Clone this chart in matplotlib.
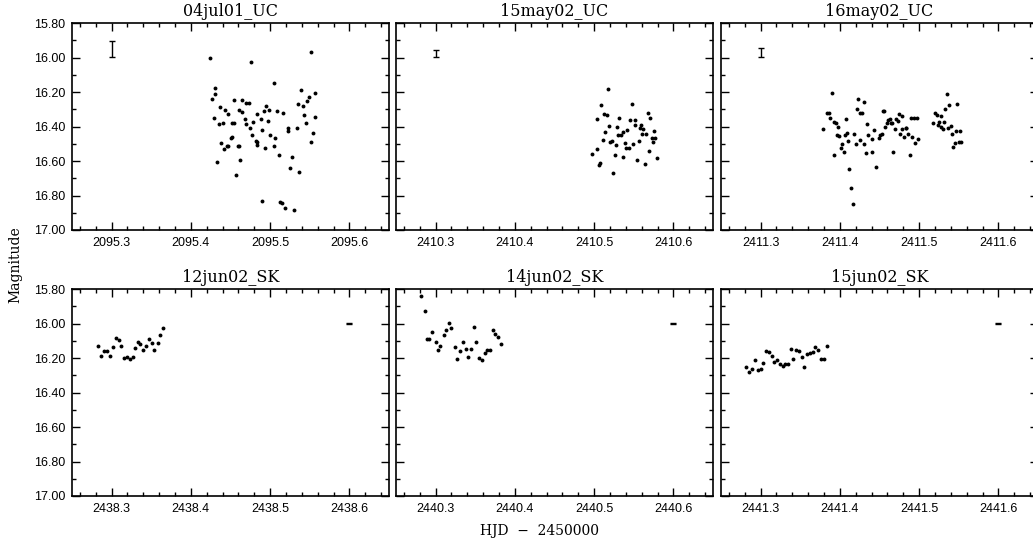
import numpy as np
import matplotlib
matplotlib.use('Agg')
import matplotlib.pyplot as plt
from matplotlib.ticker import MultipleLocator, FormatStrFormatter

# light curves, one night per panel (HJD - 2450000, magnitude)
titles = ['04jul01_UC', '15may02_UC', '16may02_UC',
          '12jun02_SK', '14jun02_SK', '15jun02_SK']

t_04jul01 = [2095.4245, 2095.4755, 2095.552, 2095.505, 2095.431, 2095.430, 2095.427, 2095.539,
             2095.557, 2095.549, 2095.547, 2095.454, 2095.464, 2095.470, 2095.473, 2095.535,
             2095.541, 2095.437, 2095.443, 2095.461, 2095.465, 2095.495, 2095.499, 2095.492,
             2095.509, 2095.516, 2095.447, 2095.483, 2095.543, 2095.556, 2095.429, 2095.468,
             2095.489, 2095.497, 2095.441, 2095.436, 2095.452, 2095.455, 2095.479, 2095.470,
             2095.545, 2095.474, 2095.534, 2095.523, 2095.522, 2095.490, 2095.554, 2095.477,
             2095.500, 2095.506, 2095.451, 2095.452, 2095.482, 2095.484, 2095.484, 2095.438,
             2095.445, 2095.447, 2095.459, 2095.461, 2095.551, 2095.494, 2095.505, 2095.442,
             2095.511, 2095.528, 2095.462, 2095.433, 2095.525, 2095.536, 2095.457, 2095.490,
             2095.513, 2095.515, 2095.519, 2095.530]
m_04jul01 = [16.003, 16.025, 15.968, 16.146, 16.177, 16.214, 16.241, 16.191,
             16.204, 16.230, 16.253, 16.245, 16.247, 16.264, 16.262, 16.270,
             16.280, 16.286, 16.307, 16.307, 16.315, 16.280, 16.303, 16.308,
             16.313, 16.324, 16.330, 16.328, 16.334, 16.344, 16.350, 16.359,
             16.357, 16.369, 16.377, 16.386, 16.377, 16.381, 16.373, 16.388,
             16.381, 16.410, 16.408, 16.408, 16.427, 16.421, 16.435, 16.452,
             16.452, 16.464, 16.466, 16.460, 16.483, 16.489, 16.508, 16.497,
             16.512, 16.512, 16.514, 16.512, 16.489, 16.522, 16.514, 16.533,
             16.564, 16.574, 16.597, 16.603, 16.642, 16.665, 16.681, 16.832,
             16.837, 16.843, 16.872, 16.884]

t_15may02 = [2410.517, 2410.509, 2410.548, 2410.504, 2410.512, 2410.516, 2410.532, 2410.545,
             2410.552, 2410.568, 2410.571, 2410.519, 2410.529, 2410.551, 2410.558, 2410.559,
             2410.562, 2410.514, 2410.537, 2410.542, 2410.576, 2410.560, 2410.565, 2410.530,
             2410.534, 2410.573, 2410.577, 2410.511, 2410.520, 2410.522, 2410.539, 2410.556,
             2410.574, 2410.527, 2410.540, 2410.544, 2410.549, 2410.503, 2410.497, 2410.569,
             2410.526, 2410.536, 2410.579, 2410.554, 2410.508, 2410.506, 2410.564, 2410.524]
m_15may02 = [16.181, 16.274, 16.268, 16.354, 16.328, 16.336, 16.350, 16.361,
             16.361, 16.323, 16.352, 16.396, 16.402, 16.394, 16.406, 16.390,
             16.414, 16.433, 16.429, 16.421, 16.427, 16.443, 16.445, 16.452,
             16.452, 16.466, 16.464, 16.479, 16.487, 16.485, 16.497, 16.485,
             16.489, 16.510, 16.526, 16.526, 16.503, 16.532, 16.561, 16.543,
             16.563, 16.578, 16.582, 16.595, 16.609, 16.624, 16.617, 16.667]

t_16may02 = [2411.379, 2411.384, 2411.386, 2411.388, 2411.390, 2411.393, 2411.395, 2411.398,
             2411.396, 2411.399, 2411.393, 2411.402, 2411.403, 2411.405, 2411.407, 2411.408,
             2411.409, 2411.410, 2411.412, 2411.414, 2411.416, 2411.418, 2411.420, 2411.421,
             2411.423, 2411.425, 2411.426, 2411.428, 2411.430, 2411.431, 2411.433, 2411.434,
             2411.436, 2411.440, 2411.441, 2411.443, 2411.445, 2411.450, 2411.451, 2411.453,
             2411.454, 2411.456, 2411.457, 2411.459, 2411.461, 2411.463, 2411.464, 2411.466,
             2411.467, 2411.469, 2411.471, 2411.473, 2411.474, 2411.476, 2411.478, 2411.479,
             2411.481, 2411.483, 2411.484, 2411.486, 2411.488, 2411.490, 2411.491, 2411.493,
             2411.495, 2411.497, 2411.498, 2411.518, 2411.520, 2411.522, 2411.524, 2411.525,
             2411.527, 2411.528, 2411.530, 2411.532, 2411.533, 2411.535, 2411.537, 2411.538,
             2411.540, 2411.541, 2411.543, 2411.545, 2411.547, 2411.548, 2411.550, 2411.552,
             2411.553]
m_16may02 = [16.414, 16.321, 16.324, 16.348, 16.203, 16.373, 16.379, 16.402,
             16.450, 16.456, 16.563, 16.526, 16.503, 16.549, 16.452, 16.357,
             16.435, 16.483, 16.648, 16.758, 16.851, 16.441, 16.504, 16.297,
             16.239, 16.481, 16.323, 16.323, 16.500, 16.259, 16.551, 16.388,
             16.450, 16.549, 16.470, 16.421, 16.634, 16.466, 16.448, 16.443,
             16.313, 16.313, 16.404, 16.377, 16.361, 16.356, 16.377, 16.377,
             16.549, 16.416, 16.359, 16.369, 16.328, 16.441, 16.412, 16.338,
             16.458, 16.406, 16.410, 16.443, 16.564, 16.350, 16.462, 16.350,
             16.497, 16.348, 16.472, 16.381, 16.321, 16.336, 16.394, 16.375,
             16.400, 16.338, 16.414, 16.375, 16.301, 16.209, 16.408, 16.278,
             16.398, 16.443, 16.520, 16.497, 16.427, 16.272, 16.491, 16.427,
             16.489]

t_12jun02 = [2438.283, 2438.287, 2438.290, 2438.294, 2438.298, 2438.302, 2438.305, 2438.309,
             2438.312, 2438.315, 2438.319, 2438.323, 2438.327, 2438.330, 2438.333, 2438.336,
             2438.340, 2438.344, 2438.347, 2438.351, 2438.354, 2438.358, 2438.361, 2438.365]
m_12jun02 = [16.131, 16.187, 16.158, 16.160, 16.189, 16.135, 16.083, 16.096,
             16.129, 16.201, 16.193, 16.203, 16.197, 16.143, 16.106, 16.117,
             16.156, 16.129, 16.090, 16.115, 16.152, 16.114, 16.067, 16.026]

t_14jun02 = [2440.282, 2440.286, 2440.289, 2440.292, 2440.296, 2440.300, 2440.303, 2440.306,
             2440.310, 2440.313, 2440.317, 2440.320, 2440.324, 2440.327, 2440.331, 2440.334,
             2440.338, 2440.341, 2440.345, 2440.348, 2440.351, 2440.355, 2440.358, 2440.362,
             2440.365, 2440.368, 2440.372, 2440.375, 2440.379, 2440.382]
m_14jun02 = [15.843, 15.926, 16.088, 16.090, 16.050, 16.110, 16.156, 16.131,
             16.065, 16.038, 15.999, 16.025, 16.135, 16.203, 16.158, 16.106,
             16.150, 16.193, 16.146, 16.021, 16.108, 16.201, 16.214, 16.172,
             16.152, 16.152, 16.040, 16.063, 16.081, 16.117]

t_15jun02 = [2441.281, 2441.285, 2441.289, 2441.293, 2441.297, 2441.300, 2441.303, 2441.307,
             2441.311, 2441.314, 2441.317, 2441.321, 2441.324, 2441.328, 2441.331, 2441.334,
             2441.338, 2441.341, 2441.345, 2441.348, 2441.352, 2441.355, 2441.359, 2441.362,
             2441.366, 2441.369, 2441.373, 2441.376, 2441.380, 2441.384]
m_15jun02 = [16.253, 16.284, 16.264, 16.212, 16.272, 16.263, 16.230, 16.160,
             16.166, 16.191, 16.224, 16.212, 16.237, 16.249, 16.232, 16.236,
             16.146, 16.204, 16.152, 16.162, 16.195, 16.253, 16.178, 16.170,
             16.164, 16.137, 16.154, 16.208, 16.204, 16.131]

times = [t_04jul01, t_15may02, t_16may02, t_12jun02, t_14jun02, t_15jun02]
mags = [m_04jul01, m_15may02, m_16may02, m_12jun02, m_14jun02, m_15jun02]

# typical error bar drawn in a corner of each panel
err_x = [2095.3, 2410.3, 2411.3, 2438.6, 2440.6, 2441.6]
err_y = [15.951, 15.976, 15.971, 16.0, 16.0, 16.0]
err_size = [0.046, 0.021, 0.026, 0.002, 0.002, 0.002]

# x range start of each panel (all panels span 0.4 d)
x_start = [2095.25, 2410.25, 2411.25, 2438.25, 2440.25, 2441.25]

W, H = 1033, 545
fig = plt.figure(figsize=(W / 100, H / 100), dpi=100)

lefts = [72, 396, 721]
tops = [23, 289]
pw, ph = 317, 207

for i in range(6):
    r, c = i // 3, i % 3
    ax = fig.add_axes([lefts[c] / W, 1 - (tops[r] + ph) / H, pw / W, ph / H])
    ax.plot(times[i], mags[i], 'o', color='black', markersize=2.8, markeredgewidth=0)
    ax.errorbar([err_x[i]], [err_y[i]], yerr=[err_size[i]], fmt='none',
                ecolor='black', elinewidth=1.0, capsize=2.5, capthick=1.0)
    ax.set_xlim(x_start[i], x_start[i] + 0.4)
    ax.set_ylim(17.0, 15.8)
    ax.xaxis.set_major_locator(MultipleLocator(0.1))
    ax.xaxis.set_minor_locator(MultipleLocator(0.02))
    ax.yaxis.set_major_locator(MultipleLocator(0.2))
    ax.yaxis.set_minor_locator(MultipleLocator(0.1))
    ax.xaxis.set_major_formatter(FormatStrFormatter('%.1f'))
    ax.yaxis.set_major_formatter(FormatStrFormatter('%.2f'))
    ax.tick_params(which='both', direction='in', top=True, right=True,
                   width=1.0, labelsize=9, pad=5)
    ax.tick_params(which='major', length=6)
    ax.tick_params(which='minor', length=3)
    for lab in ax.get_xticklabels() + ax.get_yticklabels():
        lab.set_family('Liberation Sans')
    if c != 0:
        ax.tick_params(labelleft=False)
    for s in ax.spines.values():
        s.set_linewidth(1.2)
    ax.set_title(titles[i], family='DejaVu Serif', fontsize=11.5, pad=5)

fig.text(0.015, 1 - 265 / H, 'Magnitude', rotation=90, ha='center', va='center',
         family='DejaVu Serif', fontsize=10)
fig.text(540 / W, 1 - 531 / H, 'HJD  \u2212  2450000', ha='center', va='center',
         family='DejaVu Serif', fontsize=10)

fig.savefig('out.png', dpi=100)
